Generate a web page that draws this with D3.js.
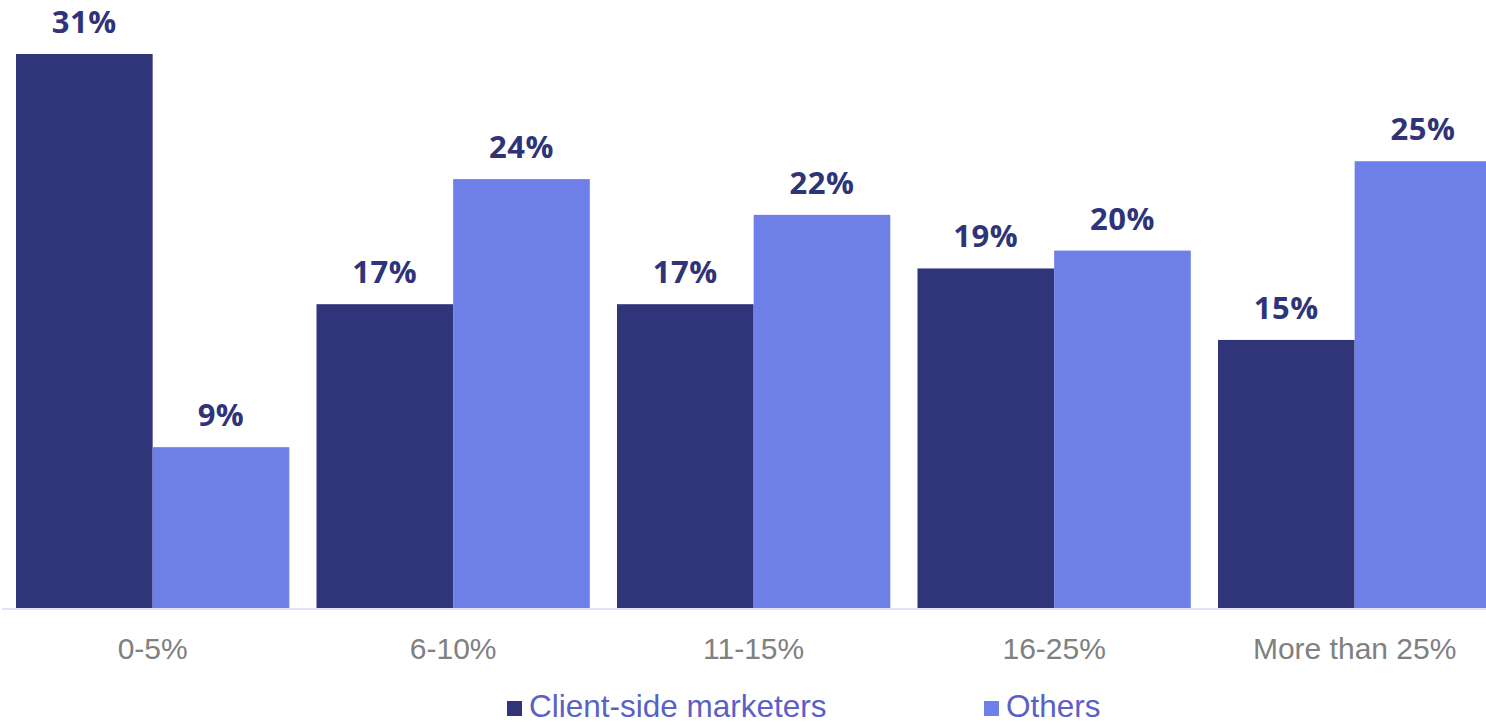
<!DOCTYPE html>
<html>
<head>
<meta charset="utf-8">
<script src="https://cdn.jsdelivr.net/npm/d3@7"></script>
<style>
  html, body { margin: 0; padding: 0; background: #ffffff; }
  svg { display: block; }
</style>
</head>
<body>
<svg id="chart" width="1486" height="725"></svg>
<script>
// Share of respondents by budget band
const categories = ["0-5%", "6-10%", "11-15%", "16-25%", "More than 25%"];
const seriesNames = ["Client-side marketers", "Others"];
const clientSide = [31, 17, 17, 19, 15];
const others = [9, 24, 22, 20, 25];

const colors = ["#303479", "#6e80e8"];
const labelColor = "#2f3379";
const legendTextColor = "#5b5fc6";

const svg = d3.select("#chart");

const rows = categories.map((c, i) => ({ cat: c, values: [clientSide[i], others[i]] }));

const x0 = d3.scaleBand()
  .domain(categories)
  .range([2.4, 1504.9])
  .paddingInner(0.0905)
  .paddingOuter(0.04525);

const x1 = d3.scaleBand()
  .domain(seriesNames)
  .range([0, x0.bandwidth()])
  .padding(0);

const y = d3.scaleLinear().domain([0, 31]).range([608, 54]);

// baseline
svg.append("line")
  .attr("x1", 2).attr("x2", 1486)
  .attr("y1", y(0) + 1).attr("y2", y(0) + 1)
  .attr("stroke", "#e3e3f5").attr("stroke-width", 2);

const groups = svg.append("g").selectAll("g")
  .data(rows)
  .join("g")
  .attr("transform", d => `translate(${x0(d.cat)},0)`);

const cells = groups.selectAll("g")
  .data(d => d.values.map((v, k) => ({ series: seriesNames[k], k, v })))
  .join("g");

cells.append("rect")
  .attr("x", d => x1(d.series))
  .attr("y", d => y(d.v))
  .attr("width", x1.bandwidth())
  .attr("height", d => y(0) - y(d.v))
  .attr("fill", d => colors[d.k]);

cells.append("text")
  .attr("x", d => x1(d.series) + x1.bandwidth() / 2)
  .attr("y", d => y(d.v) - 21)
  .attr("text-anchor", "middle")
  .attr("font-family", "'Open Sans', sans-serif")
  .attr("font-weight", 700)
  .attr("font-size", 31)
  .attr("letter-spacing", 0.5)
  .attr("fill", labelColor)
  .text(d => d.v + "%");

// category axis
const xAxis = d3.axisBottom(x0).tickSize(0).tickPadding(0);
const axisG = svg.append("g")
  .attr("transform", `translate(0,${y(0)})`)
  .call(xAxis);
axisG.select(".domain").remove();
axisG.selectAll("text")
  .attr("dy", null)
  .attr("y", 51)
  .attr("font-family", "'Liberation Sans', Arial, sans-serif")
  .attr("font-size", 30)
  .attr("fill", "#808080");

// legend
const legendItems = [
  { name: seriesNames[0], color: colors[0], x: 507 },
  { name: seriesNames[1], color: colors[1], x: 984 }
];
const legend = svg.append("g").selectAll("g")
  .data(legendItems)
  .join("g")
  .attr("transform", d => `translate(${d.x},0)`);
legend.append("rect")
  .attr("x", 0).attr("y", 701)
  .attr("width", 15).attr("height", 15)
  .attr("fill", d => d.color);
legend.append("text")
  .attr("x", 22).attr("y", 717)
  .attr("font-family", "'Liberation Sans', Arial, sans-serif")
  .attr("font-size", 31.5)
  .attr("fill", legendTextColor)
  .text(d => d.name);
</script>
</body>
</html>
